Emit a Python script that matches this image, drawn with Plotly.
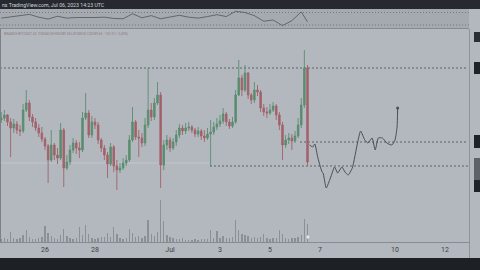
import plotly.graph_objects as go
import pandas as pd

# ---------------- data ----------------
start_time = "2023-06-24 06:00"
first_open = 30800
closes = [30820, 30850, 30780, 30720, 30760, 30700, 30690, 30900, 30970, 30830,
          30780, 30720, 30670, 30610, 30540, 30400, 30550, 30450, 30420, 30700,
          30320, 30380, 30500, 30570, 30520, 30500, 30820, 30870, 30650, 30780,
          30750, 30600, 30520, 30450, 30360, 30530, 30340, 30300, 30320, 30370,
          30400, 30600, 30780, 30630, 30620, 30570, 30750, 30900, 30830, 30970,
          31050, 30350, 30550, 30600, 30520, 30580, 30650, 30720, 30690, 30720,
          30730, 30700, 30660, 30690, 30640, 30620, 30660, 30680, 30730, 30760,
          30790, 30860, 30780, 30740, 30780, 31050, 31220, 31100, 31270, 31050,
          31000, 31100, 31080, 30920, 30880, 30870, 30900, 30940, 30850, 30750,
          30550, 30600, 30620, 30590, 30640, 30750, 30950, 31320, 30380]
highs = [30880, 30900, 30860, 30820, 30810, 30790, 30750, 30960, 31100, 31000,
         30860, 30820, 30760, 30730, 30630, 30560, 30700, 30570, 30520, 30770,
         30720, 30450, 30550, 30620, 30600, 30580, 30880, 31070, 30900, 30840,
         30820, 30780, 30620, 30550, 30480, 30570, 30550, 30400, 30370, 30420,
         30450, 30650, 30930, 30800, 30700, 30670, 30820, 31320, 30970, 31020,
         31180, 31080, 30600, 30650, 30630, 30620, 30700, 30760, 30750, 30770,
         30780, 30750, 30720, 30730, 30710, 30700, 30720, 30800, 30780, 30820,
         30850, 30920, 30880, 30810, 30830, 31100, 31400, 31250, 31350, 31280,
         31070, 31180, 31150, 31100, 30960, 30930, 30960, 30980, 30960, 30880,
         30780, 30650, 30670, 30660, 30690, 30820, 31020, 31500, 31350]
lows = [30770, 30790, 30740, 30430, 30670, 30660, 30640, 30670, 30880, 30790,
        30730, 30690, 30630, 30580, 30500, 30170, 30380, 30400, 30360, 30400,
        30130, 30300, 30350, 30470, 30460, 30420, 30480, 30800, 30620, 30620,
        30710, 30560, 30480, 30400, 30220, 30340, 30280, 30100, 30270, 30300,
        30340, 30380, 30580, 30600, 30430, 30530, 30540, 30720, 30790, 30800,
        30950, 30120, 30300, 30500, 30480, 30500, 30540, 30620, 30650, 30660,
        30690, 30670, 30630, 30630, 30600, 30580, 30600, 30330, 30650, 30700,
        30730, 30760, 30740, 30710, 30720, 30760, 31040, 31040, 31080, 31010,
        30960, 30970, 31040, 30880, 30840, 30820, 30850, 30880, 30800, 30700,
        30400, 30520, 30560, 30500, 30570, 30620, 30720, 30920, 30340]
volumes = [700, 900, 650, 2000, 800, 600, 750, 1400, 2400, 1100,
           700, 600, 850, 1000, 3200, 1900, 1300, 800, 700, 1500,
           2600, 1200, 900, 700, 800, 3000, 1500, 3400, 1600, 900,
           700, 800, 950, 1000, 1800, 1100, 3000, 1700, 900, 700,
           800, 2600, 1900, 1000, 1200, 900, 1300, 4400, 1600, 1200,
           2000, 8400, 4200, 1500, 1100, 800, 700, 600, 800, 500,
           450, 500, 600, 450, 550, 600, 700, 2400, 900, 2200,
           800, 1300, 900, 800, 1000, 4400, 2400, 1600, 1400, 1200,
           900, 1000, 800, 1100, 1600, 900, 700, 800, 900, 2400,
           1600, 900, 700, 800, 900, 1000, 1500, 4600, 3600]

rsi_idx = list(range(0, 99, 3)) + [98]
rsi_vals = [52, 56, 60, 64, 55, 49, 58, 52, 54, 53,
            54, 55, 51, 50, 66, 53, 60, 50, 56, 61,
            55, 52, 57, 63, 57, 74, 70, 60, 42, 46,
            28, 44, 72, 40]

proj_times = ["2023-07-06 14:00", "2023-07-06 17:00", "2023-07-06 19:00", "2023-07-06 22:00",
              "2023-07-07 02:00", "2023-07-07 03:00", "2023-07-07 06:00", "2023-07-07 10:00",
              "2023-07-07 14:00", "2023-07-07 17:00", "2023-07-07 21:00", "2023-07-08 00:00",
              "2023-07-08 03:00", "2023-07-08 07:00", "2023-07-08 12:00", "2023-07-08 15:00",
              "2023-07-08 19:00", "2023-07-08 22:00", "2023-07-09 02:00", "2023-07-09 05:00",
              "2023-07-09 08:00", "2023-07-09 12:00", "2023-07-09 16:00", "2023-07-09 21:00",
              "2023-07-10 00:00", "2023-07-10 02:00", "2023-07-10 02:30"]
proj_prices = [30550, 30530, 30560, 30420, 30280, 30270, 30120, 30220, 30330, 30270,
               30330, 30280, 30250, 30320, 30570, 30690, 30600, 30570, 30620, 30500,
               30620, 30620, 30570, 30550, 30600, 30730, 30920]

level_prices = [31320, 30580, 30340]
level_starts = ["2023-06-24 04:48", "2023-07-06 04:48", "2023-07-02 14:24"]
faint_level = 30370
faint_range = ["2023-06-24 04:48", "2023-07-02 14:00"]

tick_vals = ["2023-06-26", "2023-06-28", "2023-07-01", "2023-07-03", "2023-07-05",
             "2023-07-07", "2023-07-10", "2023-07-12"]
tick_text = ["26", "28", "Jul", "3", "5", "7", "10", "12"]

x_range = ["2023-06-24 04:48", "2023-07-12 22:05"]
price_range = [29580, 31700]
rsi_range = [20.4, 81.2]
rsi_bands = [70, 30]

header_text = "ns TradingView.com, Jul 06, 2023 14:23 UTC"
legend_text = "BINANCE:BTCUSDT, 60  O30340.00 H30389.28 L30188.00 C30189.63 \u2212150.37 (\u22120.49%)"

# ---------------- figure ----------------
times = pd.date_range(start_time, periods=len(closes), freq="3h")
opens = [first_open] + closes[:-1]

W, H = 480, 270
def px(xp):
    return xp / W
def py(yp):
    return 1 - yp / H

BG = "#b3b8be"
fig = go.Figure()

fig.add_trace(go.Bar(
    x=times, y=volumes, yaxis="y3", marker_color="#8a9096",
    marker_line_width=0, width=3 * 3600 * 1000 * 0.45, hoverinfo="skip",
    showlegend=False))

fig.add_trace(go.Candlestick(
    x=times, open=opens, high=highs, low=lows, close=closes,
    increasing=dict(line=dict(color="#5a8c6f", width=0.9), fillcolor="#5a8c6f"),
    decreasing=dict(line=dict(color="#a3616a", width=0.9), fillcolor="#a3616a"),
    whiskerwidth=0, showlegend=False, hoverinfo="skip"))

fig.add_trace(go.Scatter(
    x=pd.to_datetime(proj_times), y=proj_prices, mode="lines",
    line=dict(color="#4a4f55", width=1, shape="spline", smoothing=0.5),
    showlegend=False, hoverinfo="skip"))
fig.add_trace(go.Scatter(
    x=[pd.to_datetime(proj_times[-1])], y=[proj_prices[-1]], mode="markers",
    marker=dict(size=3, color="#4a4f55"), showlegend=False, hoverinfo="skip"))

fig.add_trace(go.Scatter(
    x=[times[i] for i in rsi_idx], y=rsi_vals, mode="lines",
    xaxis="x2", yaxis="y2", line=dict(color="#50555b", width=0.8),
    showlegend=False, hoverinfo="skip"))

shapes = []
# top and bottom dark strips
shapes.append(dict(type="rect", xref="paper", yref="paper", x0=0, x1=1, y0=py(9), y1=1,
                   fillcolor="#262a30", line_width=0, layer="below"))
shapes.append(dict(type="rect", xref="paper", yref="paper", x0=0, x1=1, y0=0, y1=py(258),
                   fillcolor="#1d2025", line_width=0, layer="above"))
# oscillator pane
shapes.append(dict(type="rect", xref="paper", yref="paper", x0=0, x1=px(469), y0=py(28), y1=py(9),
                   fillcolor="#a5aab0", line_width=0, layer="below"))
shapes.append(dict(type="line", xref="paper", yref="paper", x0=0, x1=px(469), y0=py(28.5), y1=py(28.5),
                   line=dict(color="#868b91", width=1)))
for b in rsi_bands:
    shapes.append(dict(type="line", xref="paper", yref="y2", x0=0, x1=px(469), y0=b, y1=b,
                       line=dict(color="#73787e", width=1, dash="1px,2px"), layer="below"))
# time axis line and right border
shapes.append(dict(type="line", xref="paper", yref="paper", x0=0, x1=px(470), y0=py(242.5), y1=py(242.5),
                   line=dict(color="#878c92", width=1)))
shapes.append(dict(type="line", xref="paper", yref="paper", x0=px(469.5), x1=px(469.5), y0=py(258), y1=py(29),
                   line=dict(color="#8e9399", width=1)))
shapes.append(dict(type="line", xref="paper", yref="paper", x0=px(0.5), x1=px(0.5), y0=py(242), y1=py(29),
                   line=dict(color="#7c8187", width=1)))
# price levels
for p, s in zip(level_prices, level_starts):
    shapes.append(dict(type="line", xref="x", yref="y", x0=s, x1=x_range[1], y0=p, y1=p,
                       line=dict(color="#5d6268", width=1, dash="2px,2px"), layer="below"))
shapes.append(dict(type="line", xref="x", yref="y", x0=faint_range[0], x1=faint_range[1],
                   y0=faint_level, y1=faint_level,
                   line=dict(color="#c2c6cb", width=1), layer="below"))
# right-axis tags
tag_boxes = [(32, 42, "#2a2e34"), (62, 74, "#1f2328"), (135, 148, "#1f2328"),
             (158, 180, "#5d6268"), (180, 192, "#1f2328")]
for y0, y1, c in tag_boxes:
    shapes.append(dict(type="rect", xref="paper", yref="paper", x0=px(474), x1=1,
                       y0=py(y1), y1=py(y0), fillcolor=c, line_width=0))
# event marker
shapes.append(dict(type="circle", xref="paper", yref="paper", x0=px(306), x1=px(310),
                   y0=py(239), y1=py(235), fillcolor="#e6e7e9", line=dict(color="#9a9ea3", width=0.5)))

annotations = [
    dict(text=header_text, xref="paper", yref="paper", x=px(0), y=py(4.5), xanchor="left",
         yanchor="middle", showarrow=False, font=dict(size=5.2, color="#cfd2d6", family="Roboto")),
    dict(text=legend_text, xref="paper", yref="paper", x=px(2), y=py(33.5), xanchor="left",
         yanchor="middle", showarrow=False, font=dict(size=3.2, color="#8e7880", family="Roboto")),
]

fig.update_layout(
    width=W, height=H, margin=dict(l=0, r=0, t=0, b=0),
    paper_bgcolor=BG, plot_bgcolor="rgba(0,0,0,0)",
    showlegend=False, bargap=0,
    shapes=shapes, annotations=annotations,
    xaxis=dict(domain=[0, px(468)], range=x_range, type="date", anchor="y",
               tickvals=tick_vals, ticktext=tick_text, ticks="", ticklen=0,
               ticklabelstandoff=2,
               tickfont=dict(size=7, color="#3d4147", family="Roboto"),
               showgrid=False, zeroline=False, showline=False,
               rangeslider=dict(visible=False), fixedrange=True),
    xaxis2=dict(domain=[0, px(468)], range=x_range, type="date", anchor="y2",
                matches="x", showticklabels=False, showgrid=False, zeroline=False,
                showline=False, ticks=""),
    yaxis=dict(domain=[py(242), py(30)], range=price_range, showticklabels=False,
               showgrid=False, zeroline=False, showline=False, ticks=""),
    yaxis2=dict(domain=[py(28), py(9)], range=rsi_range, anchor="x2", showticklabels=False,
                showgrid=False, zeroline=False, showline=False, ticks=""),
    yaxis3=dict(overlaying="y", range=[0, 42400], showticklabels=False, showgrid=False,
                zeroline=False, showline=False, ticks=""),
)

fig.write_html("out.html", config={"displayModeBar": False, "staticPlot": True})
